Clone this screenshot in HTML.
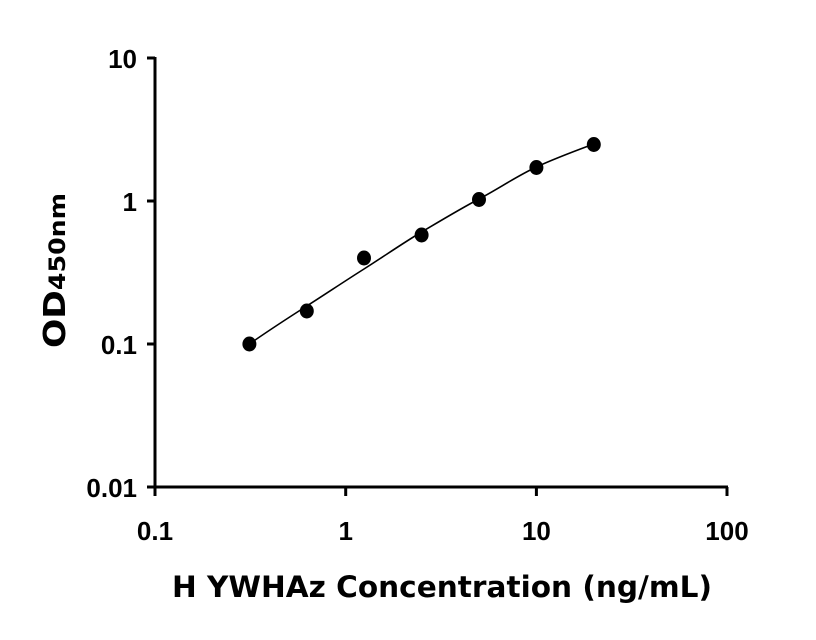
<!DOCTYPE html>
<html><head><meta charset="utf-8"><style>
html,body{margin:0;padding:0;background:#fff;}
svg{display:block;}
</style></head><body>
<svg width="816" height="640" viewBox="0 0 816 640" xmlns="http://www.w3.org/2000/svg">
<g stroke="#000" stroke-width="3" fill="none">
<line x1="155" y1="57" x2="155" y2="488"/>
<line x1="147" y1="487" x2="728" y2="487"/>
<line x1="147" y1="58" x2="155" y2="58"/>
<line x1="147" y1="201" x2="155" y2="201"/>
<line x1="147" y1="344" x2="155" y2="344"/>
<line x1="155" y1="487" x2="155" y2="496"/>
<line x1="345.7" y1="487" x2="345.7" y2="496"/>
<line x1="536.4" y1="487" x2="536.4" y2="496"/>
<line x1="727" y1="487" x2="727" y2="496"/>
</g>
<path d="M249.4,344 C268,331 288,318 306.8,306 S345,281 364,269 S403,243 421.6,232 S460,209 479,199 S517,176 536.4,167 S575,151 593.8,144" stroke="#000" stroke-width="1.6" fill="none"/>
<g fill="#000">
<ellipse cx="249.4" cy="344" rx="7" ry="7.5"/>
<ellipse cx="306.8" cy="311" rx="7" ry="7.5"/>
<ellipse cx="364" cy="258" rx="7" ry="7.5"/>
<ellipse cx="421.6" cy="235" rx="7" ry="7.5"/>
<ellipse cx="479" cy="199.5" rx="7" ry="7.5"/>
<ellipse cx="536.4" cy="167.5" rx="7" ry="7.5"/>
<ellipse cx="593.8" cy="144.5" rx="7" ry="7.5"/>
</g>
<text x="137" y="68" text-anchor="end" style="font-family:'Liberation Sans',sans-serif;font-weight:bold;font-size:26px">10</text>
<text x="137" y="211" text-anchor="end" style="font-family:'Liberation Sans',sans-serif;font-weight:bold;font-size:26px">1</text>
<text x="137" y="354" text-anchor="end" style="font-family:'Liberation Sans',sans-serif;font-weight:bold;font-size:26px">0.1</text>
<text x="137" y="497" text-anchor="end" style="font-family:'Liberation Sans',sans-serif;font-weight:bold;font-size:26px">0.01</text>
<text x="155" y="540" text-anchor="middle" style="font-family:'Liberation Sans',sans-serif;font-weight:bold;font-size:26px">0.1</text>
<text x="345.7" y="540" text-anchor="middle" style="font-family:'Liberation Sans',sans-serif;font-weight:bold;font-size:26px">1</text>
<text x="536.4" y="540" text-anchor="middle" style="font-family:'Liberation Sans',sans-serif;font-weight:bold;font-size:26px">10</text>
<text x="727" y="540" text-anchor="middle" style="font-family:'Liberation Sans',sans-serif;font-weight:bold;font-size:26px">100</text>
<text x="172" y="597" textLength="540" lengthAdjust="spacingAndGlyphs" style="font-family:'DejaVu Sans',sans-serif;font-weight:bold;font-size:29px">H YWHAz Concentration (ng/mL)</text>
<text transform="translate(65,348) rotate(-90)" textLength="155" lengthAdjust="spacingAndGlyphs" style="font-family:'DejaVu Sans',sans-serif;font-weight:bold;font-size:30px">OD<tspan style="font-size:22px">450nm</tspan></text>
</svg>
</body></html>
